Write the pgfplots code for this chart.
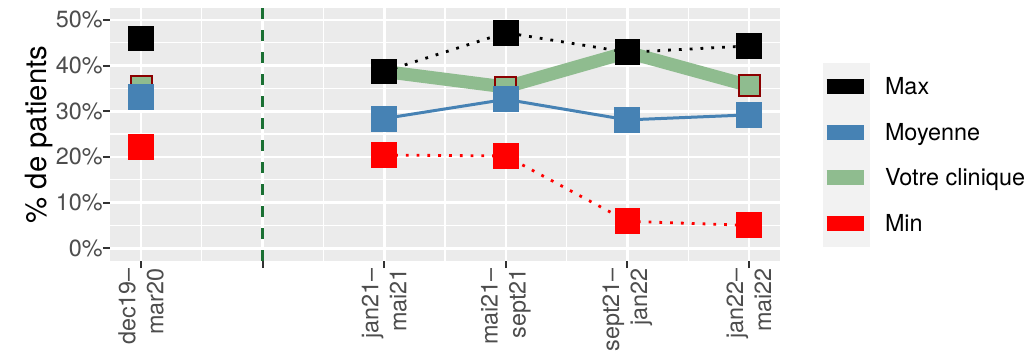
\documentclass[border=0pt]{standalone}
\usepackage{pgfplots}
\pgfplotsset{compat=1.18}
\usepackage{fontspec}
\setmainfont{TeX Gyre Heros}
\definecolor{panelbg}{HTML}{EBEBEB}
\definecolor{keybg}{HTML}{F2F2F2}
\definecolor{ticktext}{HTML}{4D4D4D}
\definecolor{tickline}{HTML}{333333}
\definecolor{moy}{HTML}{4682B4}
\definecolor{clin}{HTML}{8FBC8F}
\definecolor{clinborder}{HTML}{8B0000}
\definecolor{vline}{HTML}{1A7033}
\newcommand{\txt}{\fontsize{23.4}{28}\selectfont}
\begin{document}
\begin{tikzpicture}
\useasboundingbox (0,0) rectangle (1028pt,357pt);
\fill[keybg] (823pt,110pt) rectangle (870pt,294pt);
\begin{axis}[
  at={(110pt,96pt)}, anchor=south west,
  scale only axis, width=670pt, height=253pt,
  xmin=0.745, xmax=6.255, ymin=-2.8, ymax=52.6,
  axis background/.style={fill=panelbg},
  axis line style={draw=none},
  xtick={1,2,3,4,5,6},
  xticklabels={{dec19–\\mar20},{},{jan21–\\mai21},{mai21–\\sept21},{sept21–\\jan22},{jan22–\\mai22}},
  minor xtick={1.5,2.5,3.5,4.5,5.5},
  ytick={0,10,20,30,40,50},
  minor ytick={5,15,25,35,45},
  yticklabel={\pgfmathprintnumber{\tick}\%},
  /pgf/number format/assume math mode=true,
  xtick pos=bottom, ytick pos=left,
  tick align=outside,
  major tick length=7pt, minor tick length=0pt,
  major tick style={tickline, line width=2pt},
  grid=both,
  major grid style={white, line width=2.6pt},
  minor grid style={white, line width=1.3pt},
  xticklabel style={rotate=90, anchor=east, align=right, font=\txt, text=ticktext, inner sep=0pt, xshift=0pt},
  yticklabel style={font=\txt, text=ticktext, inner sep=0pt},
  ylabel={\% de patients},
  ylabel style={font=\fontsize{29.3}{34}\selectfont, text=black},
  legend image code/.code={\draw[#1] (0pt,2pt) -- (37pt,2pt);},
  legend style={at={(1.0582,0.7257)}, anchor=north west, draw=none, fill=none,
    inner sep=0pt, outer sep=0pt, row sep=23.7pt, font=\txt, text=black,
    nodes={inner sep=0pt, text height=17pt, text depth=5pt},
    /tikz/every odd column/.append style={column sep=14pt}},
  legend cell align=left,
  unbounded coords=jump,
]
% vertical dashed separator
\addplot[forget plot, vline, line width=3pt, dash pattern=on 11pt off 11pt] coordinates {(2,-2.8) (2,52.6)};
% Votre clinique
\addplot[forget plot, clin, line width=13pt, line join=round] coordinates {(1,35.4) (2,nan) (3,38.7) (4,35.3) (5,42.9) (6,35.6)};
\addplot[forget plot, only marks, mark=square*, mark size=10.5pt, mark options={fill=clin, draw=clinborder, line width=2pt}] coordinates {(1,35.4) (3,38.7) (4,35.3) (5,42.9) (6,35.6)};
% Max
\addplot[forget plot, black, line width=2.8pt, dash pattern=on 2.8pt off 8pt, mark=square*, mark size=11.5pt, mark options={solid, draw=none, fill=black}] coordinates {(1,45.9) (2,nan) (3,38.7) (4,47.2) (5,42.9) (6,44.3)};
% Moyenne
\addplot[forget plot, moy, line width=3pt, mark=square*, mark size=11.5pt, mark options={solid, draw=none, fill=moy}] coordinates {(1,33.1) (2,nan) (3,28.4) (4,32.6) (5,28.1) (6,29.2)};
% Min
\addplot[forget plot, red, line width=2.8pt, dash pattern=on 2.8pt off 8pt, mark=square*, mark size=11.5pt, mark options={solid, draw=none, fill=red}] coordinates {(1,22.1) (2,nan) (3,20.4) (4,20.2) (5,5.9) (6,5.0)};
% legend
\addlegendimage{black, line width=15pt}
\addlegendentry{Max}
\addlegendimage{moy, line width=15pt}
\addlegendentry{Moyenne}
\addlegendimage{clin, line width=15pt}
\addlegendentry{Votre clinique}
\addlegendimage{red, line width=15pt}
\addlegendentry{Min}
\end{axis}
\end{tikzpicture}
\end{document}
